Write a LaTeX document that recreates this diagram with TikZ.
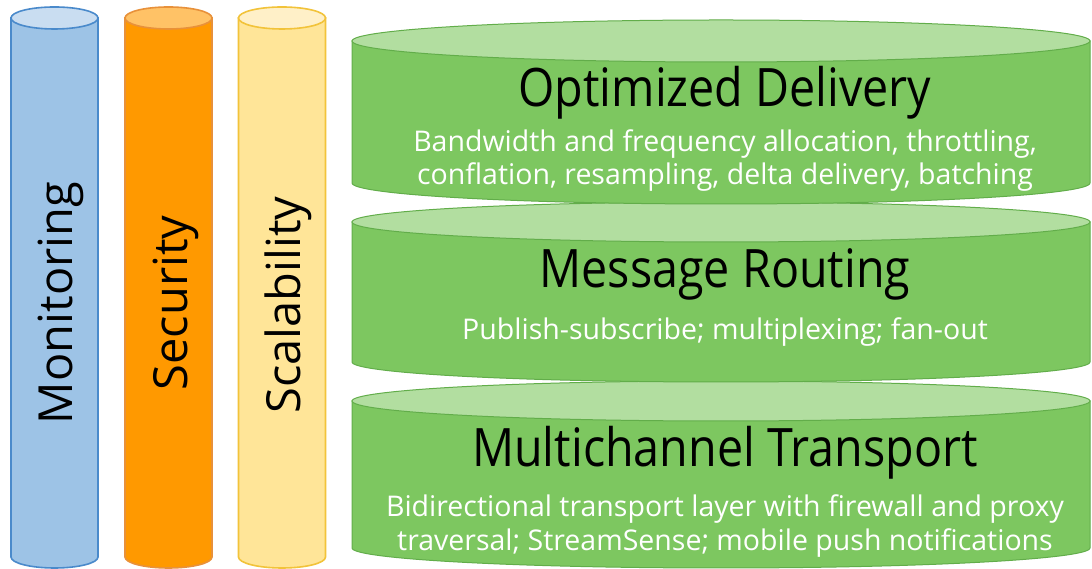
\documentclass[tikz,border=0pt]{standalone}
\usepackage{fontspec}
\setmainfont{Open Sans}
\usepackage{graphicx}
\definecolor{monbody}{HTML}{9DC3E6}
\definecolor{montop}{HTML}{C9DDF1}
\definecolor{monline}{HTML}{4A8ACB}
\definecolor{secbody}{HTML}{FF9900}
\definecolor{sectop}{HTML}{FFC266}
\definecolor{secline}{HTML}{E8913A}
\definecolor{scabody}{HTML}{FFE598}
\definecolor{scatop}{HTML}{FFF0C8}
\definecolor{scaline}{HTML}{F2C33A}
\definecolor{grbody}{HTML}{7DC760}
\definecolor{grtop}{HTML}{B2DEA0}
\definecolor{grline}{HTML}{62AD4A}
\newcommand\sq[1]{\scalebox{0.88}[1]{#1}}
% #1 cx, #2 Ytop, #3 Ybot, #4 rx, #5 ry, #6 body, #7 top, #8 line, #9 width
\newcommand\drum[9]{%
  \filldraw[fill=#6,draw=#8,line width=#9] (#1-#4,#2) -- (#1-#4,#3)
    arc[start angle=180,end angle=360,x radius=#4,y radius=#5] -- (#1+#4,#2) -- cycle;
  \filldraw[fill=#7,draw=#8,line width=#9] (#1,#2) ellipse[x radius=#4,y radius=#5];
}
\begin{document}
\begin{tikzpicture}[x=1pt,y=1pt,
  title/.style={font=\fontsize{53}{60}\selectfont,text=black,inner sep=0pt,anchor=base},
  sub/.style={font=\fontsize{28.5}{34}\selectfont,text=white,inner sep=0pt,anchor=base},
  vlabel/.style={font=\fontsize{47}{55}\selectfont,text=black,inner sep=0pt,anchor=base,rotate=90}]
\useasboundingbox (0,0) rectangle (1092,569);
\fill[white] (0,0) rectangle (1092,569);
% pillars
\drum{54.5}{551}{12}{43.5}{11}{monbody}{montop}{monline}{1.6pt}
\drum{168.5}{551}{12}{43.5}{11}{secbody}{sectop}{secline}{1.6pt}
\drum{282}{551}{12}{43.5}{11}{scabody}{scatop}{scaline}{1.6pt}
% layers
\drum{721}{168}{21}{369}{20}{grbody}{grtop}{grline}{1pt}
\drum{721}{347}{207}{369}{20}{grbody}{grtop}{grline}{1pt}
\drum{721}{528}{386}{369}{21}{grbody}{grtop}{grline}{1pt}
% vertical labels
\node[vlabel] (mon) at (72,266) {Monitoring};
\node[vlabel] (sec) at (187,266) {Security};
\node[vlabel] (sca) at (300,264) {Scalability};
% layer texts
\node[title] (od) at (725,462) {\sq{Optimized Delivery}};
\node[sub] (od1) at (725,417) {Bandwidth and frequency allocation, throttling,};
\node[sub] (od2) at (725,384) {conflation, resampling, delta delivery, batching};
\node[title] (mr) at (725,281) {\sq{Message Routing}};
\node[sub] (mr1) at (725,229) {Publish-subscribe; multiplexing; fan-out};
\node[title] (mt) at (725,102) {\sq{Multichannel Transport}};
\node[sub] (mt1) at (725,52) {Bidirectional transport layer with firewall and proxy};
\node[sub] (mt2) at (725,18) {traversal; StreamSense; mobile push notifications};
\end{tikzpicture}
\end{document}
